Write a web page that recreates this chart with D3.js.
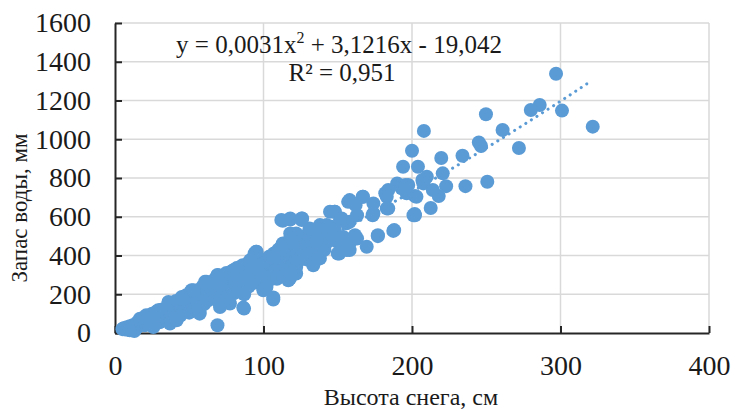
<!DOCTYPE html>
<html>
<head>
<meta charset="utf-8">
<script src="https://cdn.jsdelivr.net/npm/d3@7/dist/d3.min.js"></script>
<style>
  html, body { margin: 0; padding: 0; background: #fff; }
  svg { display: block; }
  text { font-family: "Liberation Serif", "Times New Roman", serif; fill: #1a1a1a; }
</style>
</head>
<body>
<svg id="chart" width="735" height="412"></svg>
<script>
// Snow depth (cm) — x values
const snowDepth = [
  5,6,7,8,9,10,10,11,12,12,13,14,15,15,16,17,18,19,20,20,
  21,22,23,24,25,25,26,27,28,29,30,30,31,32,33,34,35,35,36,37,38,39,40,40,
  41,42,43,44,45,45,46,47,48,49,50,50,51,52,53,54,55,55,56,57,58,59,60,60,
  61,62,63,64,65,66,67,68,69,70,70,71,72,73,74,75,76,77,78,79,80,80,
  81,82,83,84,85,86,87,88,89,90,90,91,92,93,94,95,96,97,98,99,100,100,
  101,102,103,104,105,106,107,108,109,110,110,111,112,113,114,115,116,117,118,119,120,120,
  121,122,123,124,125,126,127,128,129,130,131,132,133,134,135,136,137,138,139,140,141,142,143,145,146,148,150,
  5.6,10,16.8,21,29,36,45,51.6,60.6,69.6,57,37,69,86.9,94,82,61.7,52.7,45,28,20,57,70.7,77.4,41.5,25.8,84,91,
  113,118,125.7,144.8,113,118,95.4,91,79.7,68.5,61.7,106.6,86.4,133.5,117.8,99.9,122,
  112,118,126,158,162,148,152.6,158,138,142.5,131,122,118,113,136,147,158,163,150,133.5,138,127,123,120,116.7,106.6,102,95,95,106.6,112,
  207,195.5,190,202,202,184,183,184,174,173.5,166.8,158,163,148,156,151.5,188,177,169.5,161.6,158,151,142.5,139,125.7,133.5,122,
  187.4,177,157,167,174,183,182,193,197.5,201,153.7,161.6,156,
  297,321.7,301,286,280,249.8,208,261,245,246.5,272,200,234,219.7,194,204,220.7,210,207.6,223,236,250.7,195.5,218,203,212.6,201.8,214,196.4
];
// Water storage (mm) — y values
const waterStorage = [
  20,25,18,30,22,15,35,28,40,20,10,45,30,55,38,62,48,70,40,60,
  80,55,90,70,45,100,85,60,110,75,95,55,120,85,105,70,130,95,155,115,80,140,100,125,
  165,110,145,90,180,130,155,115,195,140,170,105,210,150,125,190,220,160,135,205,175,240,150,195,
  250,215,170,260,230,185,275,210,300,245,160,285,195,260,225,310,180,270,240,320,205,290,
  255,335,225,300,270,350,200,315,280,360,240,330,295,375,260,340,310,385,275,350,300,230,
  380,330,265,395,350,300,410,325,280,370,430,340,390,300,450,360,320,420,380,340,460,400,
  360,440,420,480,390,450,500,430,380,470,520,410,480,450,530,420,500,460,540,480,430,510,470,550,500,530,470,
  23,14,74,91,117,160,186,221,264,298,100,49,40,126,410,333,255,221,178,109,83,109,134,152,66,31,272,307,
  579,591,591,626,462,514,419,376,324,290,264,173,131,359,281,221,341,
  583,586,591,686,660,626,591,574,557,531,540,514,488,453,479,496,462,488,410,350,385,410,367,315,272,183,238,419,341,393,445,
  790,763,772,707,608,738,703,643,669,608,703,683,608,626,566,583,531,500,445,493,428,410,557,531,583,359,307,
  527,505,677,703,617,643,721,747,764,608,496,505,428,
  1338,1065,1148,1177,1151,1129,1043,1048,983,965,955,941,915,903,858,858,824,807,772,758,758,781,762,707,703,645,614,738,721
];
// Polynomial trendline coefficients (from the chart's label)
const trendCoef = [0.0031, 3.1216, -19.042];
const trendRange = [5, 321];
const xTicks = [0, 100, 200, 300, 400];
const yTicks = [0, 200, 400, 600, 800, 1000, 1200, 1400, 1600];
const xTitle = "Высота снега, см";
const yTitle = "Запас воды, мм";
const eqLabel = ["y = 0,0031x", "2", " + 3,1216x - 19,042"];
const r2Label = ["R", "²", " = 0,951"];

const color = "#5b9bd5";
const svg = d3.select("#chart");
const m = { left: 115, right: 709, top: 23, bottom: 333 };

const x = d3.scaleLinear().domain([0, 400]).range([m.left, m.right]);
const y = d3.scaleLinear().domain([0, 1600]).range([m.bottom, m.top]);

// gridlines
const grid = svg.append("g");
grid.selectAll("line.h").data(yTicks.slice(1)).join("line")
  .attr("x1", m.left).attr("x2", m.right)
  .attr("y1", d => y(d)).attr("y2", d => y(d))
  .attr("stroke", "#d9d9d9").attr("stroke-width", 1.5);
grid.selectAll("line.v").data(xTicks.slice(1)).join("line")
  .attr("y1", m.top).attr("y2", m.bottom)
  .attr("x1", d => x(d)).attr("x2", d => x(d))
  .attr("stroke", "#d9d9d9").attr("stroke-width", 1.5);

// axes
const fmt = d3.format("d");
const xAxis = d3.axisBottom(x).tickValues(xTicks).tickFormat(fmt).tickSizeInner(-7).tickSizeOuter(0).tickPadding(22);
const yAxis = d3.axisLeft(y).tickValues(yTicks).tickFormat(fmt).tickSizeInner(-7).tickSizeOuter(0).tickPadding(24);

const gx = svg.append("g").attr("transform", `translate(0,${m.bottom})`).call(xAxis);
const gy = svg.append("g").attr("transform", `translate(${m.left},0)`).call(yAxis);
[gx, gy].forEach(g => {
  g.attr("font-family", "Liberation Serif");
  g.select(".domain").attr("stroke", "#262626").attr("stroke-width", 2);
  g.selectAll(".tick line").attr("stroke", "#262626").attr("stroke-width", 2);
  g.selectAll(".tick text").attr("font-family", "Liberation Serif").attr("font-size", 28).attr("fill", "#1a1a1a");
});
gx.selectAll(".tick text").attr("dy", "0.71em");

// points
svg.append("g").selectAll("circle").data(snowDepth.map((d, i) => [d, waterStorage[i]])).join("circle")
  .attr("cx", d => x(d[0])).attr("cy", d => y(d[1])).attr("r", 7)
  .attr("fill", color);

// trendline
const tx = d3.range(trendRange[0], trendRange[1] + 0.01, 1);
const line = d3.line().x(d => x(d)).y(d => y(trendCoef[0] * d * d + trendCoef[1] * d + trendCoef[2]));
svg.append("path").datum(tx).attr("d", line)
  .attr("fill", "none").attr("stroke", color).attr("stroke-width", 3)
  .attr("stroke-linecap", "round").attr("stroke-dasharray", "0.1 6.5");

// equation labels
const eq = svg.append("text").attr("x", 339).attr("y", 53).attr("text-anchor", "middle").attr("font-size", 25);
eq.append("tspan").text(eqLabel[0]);
eq.append("tspan").text(eqLabel[1]).attr("font-size", 16).attr("dy", -10);
eq.append("tspan").text(eqLabel[2]).attr("dy", 10);
const r2 = svg.append("text").attr("x", 342).attr("y", 81).attr("text-anchor", "middle").attr("font-size", 25);
r2.text(r2Label.join(""));

// axis titles
svg.append("text").attr("x", 411).attr("y", 405).attr("text-anchor", "middle").attr("font-size", 24).text(xTitle);
svg.append("text").attr("transform", "translate(27,208) rotate(-90)").attr("text-anchor", "middle").attr("font-size", 23).text(yTitle);
</script>
</body>
</html>
